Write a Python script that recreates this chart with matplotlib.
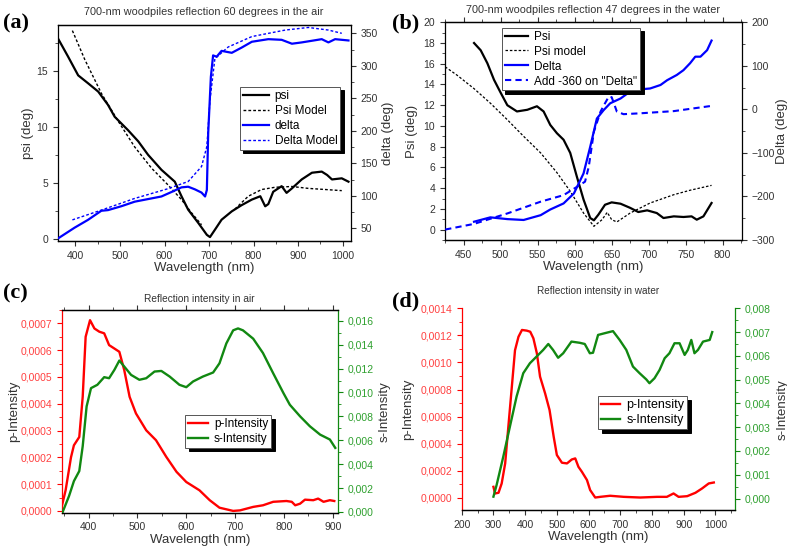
import numpy as np
import matplotlib
matplotlib.use("Agg")
import matplotlib.pyplot as plt
from matplotlib.ticker import MultipleLocator, FuncFormatter

plt.rcParams['font.family'] = ['Liberation Sans', 'DejaVu Sans']

# ---- (a) 60 degrees in air ----
a_wl_psi = [362, 383, 406, 428, 451, 473, 488, 518, 541, 563, 593, 623, 638, 653, 676, 695,
            702, 713, 728, 751, 773, 796, 815, 826, 833, 844, 863, 874, 886, 908, 931, 953,
            965, 976, 998, 1013]
a_psi = [17.8, 16.3, 14.6, 13.9, 13.15, 11.96, 10.9, 9.7, 8.7, 7.5, 6.16, 5.1, 3.8, 2.6, 1.4, 0.35,
         0.15, 0.8, 1.7, 2.45, 3.0, 3.5, 3.8, 2.9, 3.1, 4.2, 4.7, 4.1, 4.5, 5.3, 5.9, 6.0,
         5.7, 5.3, 5.4, 5.1]
a_wl_psim = [393, 421, 458, 496, 533, 571, 608, 638, 661, 683, 720, 758, 788, 818, 848, 886, 923, 961, 998]
a_psim = [18.6, 16.0, 13.0, 10.5, 8.2, 6.3, 4.8, 3.5, 2.3, 1.25, np.nan, 2.65, 3.8, 4.4, 4.6, 4.67, 4.5, 4.4, 4.3]
a_wl_del = [362, 398, 428, 458, 473, 503, 533, 563, 593, 616, 638, 653, 668, 683, 691, 695,
            698, 704, 709, 717, 728, 751, 773, 796, 833, 863, 886, 908, 953, 968, 983, 1013]
a_del = [35, 51, 63, 77, 78, 84, 91, 95, 99, 106, 113, 114, 110, 105, 99, 109,
         196, 283, 316, 314, 323, 320, 328, 337, 341, 340, 334, 336, 341, 336, 341, 339]
a_wl_delm = [393, 458, 533, 608, 653, 683, 695, 702, 713, 743, 796, 871, 923, 968, 998]
a_delm = [63, 78, 96, 111, 122, 145, 176, 247, 311, 329, 345, 355, 359, 355, 350]

# ---- (b) 47 degrees in water ----
b_wl_psi = [464, 473, 482, 491, 500, 509, 522, 536, 549, 558, 567, 576, 585, 594, 603, 612,
            621, 626, 632, 641, 650, 662, 675, 686, 698, 711, 720, 734, 747, 758, 765, 774, 781, 785]
b_psi = [18.0, 17.3, 16.05, 14.45, 13.2, 12.0, 11.4, 11.56, 11.9, 11.4, 10.1, 9.3, 8.67, 7.4, 5.1, 2.9,
         1.12, 0.9, 1.44, 2.4, 2.63, 2.5, 2.1, 1.7, 1.86, 1.6, 1.12, 1.28, 1.22, 1.28, 0.96, 1.28, 2.1, 2.57]
b_wl_psim = [425, 441, 464, 486, 509, 531, 554, 576, 594, 612, 626, 637, 644, 650, 657, 675, 702, 734, 756, 785]
b_psim = [15.7, 14.9, 13.6, 12.2, 10.6, 9.0, 7.4, 5.5, 3.7, 1.6, 0.32, 0.96, 1.67, 0.96, 0.74, 1.6, 2.57,
          3.37, 3.8, 4.27]
b_wl_del = [464, 486, 509, 531, 554, 567, 585, 599, 612, 621, 630, 639, 648, 662, 675, 689,
            702, 716, 725, 738, 747, 756, 763, 770, 779, 785]
b_del = [-258, -248, -252, -254, -243, -230, -216, -193, -147, -86, -21, -2, 14, 25, 41, 46,
         48, 56, 67, 79, 90, 106, 121, 121, 136, 158]
b_wl_add = [425, 464, 509, 554, 585, 603, 614, 619, 626, 635, 641, 646, 650, 657, 666, 689, 734, 785]
b_add = [-276, -263, -239, -212, -197, -178, -166, -132, -51, -5, 14, 29, 28, -5, -11, -9, -4, 8]

# ---- (c) intensity in air ----
c_wl_p = [343, 353, 364, 370, 381, 388, 394, 403, 412, 422, 432, 442, 453, 463, 473, 484, 497,
          518, 538, 559, 580, 600, 627, 648, 668, 696, 710, 737, 757, 778, 805, 816, 823, 833,
          843, 860, 870, 881, 894, 903]
c_p = [0.0, 0.77, 2.0, 2.45, 2.76, 4.26, 6.5, 7.12, 6.81, 6.69, 6.63, 6.19, 6.06, 5.94, 5.26, 4.26,
       3.64, 3.01, 2.64, 2.02, 1.46, 1.08, 0.77, 0.4, 0.12, 0.0, 0.02, 0.15, 0.21, 0.34, 0.37,
       0.34, 0.21, 0.27, 0.42, 0.4, 0.46, 0.34, 0.4, 0.37]  # x 1e-4
c_wl_s = [347, 360, 370, 381, 388, 396, 405, 418, 432, 442, 453, 463, 473, 487, 504, 518, 535,
          549, 566, 586, 600, 614, 634, 655, 668, 682, 696, 706, 716, 737, 757, 778, 799, 812,
          833, 853, 874, 894, 905]
c_s = [0.0, 1.33, 2.58, 3.42, 5.5, 8.83, 10.36, 10.64, 11.28, 11.19, 11.9, 12.67, 12.17, 11.47,
       11.06, 11.19, 11.75, 11.8, 11.33, 10.64, 10.44, 10.92, 11.33, 11.67, 12.44, 14.1, 15.2,
       15.36, 15.2, 14.5, 13.3, 11.6, 9.94, 8.97, 8.0, 7.17, 6.47, 6.06, 5.36]  # x 1e-3

# ---- (d) intensity in water ----
d_wl_p = [300, 305, 316, 326, 337, 347, 358, 368, 379, 390, 405, 416, 426, 437, 447, 463, 477,
          490, 500, 516, 532, 547, 558, 568, 579, 595, 605, 621, 637, 668, 711, 763, 816, 847,
          868, 884, 911, 937, 958, 979, 995]
d_p = [0.81, 0.32, 0.37, 1.06, 2.54, 5.25, 8.2, 10.9, 11.9, 12.4, 12.35, 12.27, 11.78, 10.67,
       8.95, 7.71, 6.48, 4.51, 3.16, 2.59, 2.54, 2.83, 2.91, 2.29, 1.92, 1.31, 0.57, 0.02, 0.07,
       0.15, 0.07, 0.02, 0.07, 0.07, 0.32, 0.07, 0.12, 0.37, 0.69, 1.06, 1.13]  # x 1e-4
d_wl_s = [300, 310, 331, 352, 373, 394, 415, 436, 457, 473, 488, 504, 520, 546, 572, 588, 604,
          614, 630, 656, 677, 698, 719, 740, 761, 782, 792, 808, 824, 840, 855, 871, 887, 903,
          913, 924, 934, 945, 961, 982, 990]
d_s = [0.08, 0.57, 1.76, 3.03, 4.29, 5.27, 5.69, 5.97, 6.25, 6.5, 6.25, 5.92, 6.11, 6.6, 6.55,
       6.5, 6.11, 6.13, 6.88, 6.97, 7.04, 6.67, 6.25, 5.55, 5.27, 5.01, 4.85, 5.06, 5.41, 5.9,
       6.11, 6.53, 6.53, 6.04, 6.25, 6.67, 6.11, 6.25, 6.6, 6.67, 7.0]  # x 1e-3

TXT = '#333333'
RED = '#ff0000'
GRN = '#118811'
REDT = '#ff4040'
GRNT = '#2ea02e'
LBL = 9.5


def comma(fmt):
    return FuncFormatter(lambda v, pos: (fmt % v).replace('.', ','))


def style(ax, ax2, top_ticks=True):
    for a in (ax, ax2):
        a.tick_params(which='both', direction='out', labelsize=7.5, colors=TXT, labelcolor=TXT)
        a.tick_params(which='major', length=3.5, width=0.8)
        a.tick_params(which='minor', length=2, width=0.6)
    ax.tick_params(axis='x', which='both', top=top_ticks)
    ax.spines['right'].set_visible(False)
    ax2.spines['left'].set_visible(False)
    for sp in ax.spines.values():
        sp.set_linewidth(0.9)
    for sp in ax2.spines.values():
        sp.set_linewidth(0.9)


def shadow_legend(ax, handles, anchor, size, hlen):
    leg = ax.legend(handles=handles, loc='upper left', bbox_to_anchor=anchor, borderaxespad=0,
                    fontsize=size, frameon=True, fancybox=False, framealpha=1, edgecolor='#555555',
                    handlelength=hlen, labelspacing=0.25, borderpad=0.25, handletextpad=0.5,
                    shadow={'ox': 2.5, 'oy': -2.5, 'facecolor': 'black', 'edgecolor': 'black',
                            'alpha': 1})
    leg.get_frame().set_linewidth(0.7)
    return leg


fig = plt.figure(figsize=(7.87, 5.53), dpi=100)

# (a)
ax = fig.add_axes([0.0733, 0.5642, 0.3723, 0.3906])
ax2 = ax.twinx()
l1, = ax.plot(a_wl_psi, a_psi, color='black', lw=1.6, label='psi')
l2, = ax.plot(a_wl_psim, a_psim, color='black', lw=1.0, ls=(0, (2, 1.5)), label='Psi Model')
l3, = ax2.plot(a_wl_del, a_del, color='blue', lw=1.6, label='delta')
l4, = ax2.plot(a_wl_delm, a_delm, color='blue', lw=1.0, ls=(0, (2, 1.5)), label='Delta Model')
ax.set_xlim(360, 1018)
ax.set_ylim(-0.2, 19.1)
ax2.set_ylim(30.5, 362.8)
ax.xaxis.set_major_locator(MultipleLocator(100))
ax.xaxis.set_minor_locator(MultipleLocator(50))
ax.yaxis.set_major_locator(MultipleLocator(5))
ax.yaxis.set_minor_locator(MultipleLocator(2.5))
ax2.yaxis.set_major_locator(MultipleLocator(50))
ax2.yaxis.set_minor_locator(MultipleLocator(25))
style(ax, ax2, top_ticks=False)
ax.set_xlabel('Wavelength (nm)', fontsize=LBL, color=TXT, labelpad=1)
ax.set_ylabel('psi (deg)', fontsize=LBL, color=TXT, labelpad=2)
ax2.set_ylabel('delta (deg)', fontsize=LBL, color=TXT, labelpad=3)
ax.set_title('700-nm woodpiles reflection 60 degrees in the air', fontsize=7.8, color=TXT, pad=7)
shadow_legend(ax2, [l1, l2, l3, l4], (0.622, 0.713), 8.5, 2.2)

# (b)
ax = fig.add_axes([0.5654, 0.566, 0.377, 0.3937])
ax2 = ax.twinx()
l1, = ax.plot(b_wl_psi, b_psi, color='black', lw=1.6, label='Psi')
l2, = ax.plot(b_wl_psim, b_psim, color='black', lw=0.9, ls=(0, (2, 1.5)), label='Psi model')
l3, = ax2.plot(b_wl_del, b_del, color='blue', lw=1.6, label='Delta')
l4, = ax2.plot(b_wl_add, b_add, color='blue', lw=1.5, ls=(0, (3, 2)), label='Add -360 on "Delta"')
ax.set_xlim(424.7, 825.7)
ax.set_ylim(-1, 20)
ax2.set_ylim(-300, 200)
ax.xaxis.set_major_locator(MultipleLocator(50))
ax.xaxis.set_minor_locator(MultipleLocator(25))
ax.yaxis.set_major_locator(MultipleLocator(2))
ax.yaxis.set_minor_locator(MultipleLocator(1))
ax2.yaxis.set_major_locator(MultipleLocator(100))
ax2.yaxis.set_minor_locator(MultipleLocator(50))
style(ax, ax2)
ax.set_xlabel('Wavelength (nm)', fontsize=LBL, color=TXT, labelpad=1)
ax.set_ylabel('Psi (deg)', fontsize=LBL, color=TXT, labelpad=4)
ax2.set_ylabel('Delta (deg)', fontsize=LBL, color=TXT, labelpad=1)
ax.set_title('700-nm woodpiles reflection 47 degrees in the water', fontsize=7.8, color=TXT, pad=7)
shadow_legend(ax2, [l1, l2, l3, l4], (0.191, 0.975), 8.5, 2.0)

# (c)
ax = fig.add_axes([0.0784, 0.0732, 0.3507, 0.3662])
ax2 = ax.twinx()
l1, = ax.plot(c_wl_p, np.array(c_p) * 1e-4, color=RED, lw=1.7, label='p-Intensity')
l2, = ax2.plot(c_wl_s, np.array(c_s) * 1e-3, color=GRN, lw=1.7, label='s-Intensity')
ax.set_xlim(345, 910)
ax.set_ylim(-0.000006, 0.00075)
ax2.set_ylim(-0.00005, 0.0169)
ax.xaxis.set_major_locator(MultipleLocator(100))
ax.xaxis.set_minor_locator(MultipleLocator(50))
ax.yaxis.set_major_locator(MultipleLocator(0.0001))
ax.yaxis.set_minor_locator(MultipleLocator(0.00005))
ax2.yaxis.set_major_locator(MultipleLocator(0.002))
ax2.yaxis.set_minor_locator(MultipleLocator(0.001))
ax.yaxis.set_major_formatter(comma('%.4f'))
ax2.yaxis.set_major_formatter(comma('%.3f'))
style(ax, ax2)
ax.tick_params(axis='y', which='both', colors=RED, labelcolor=REDT)
ax2.tick_params(axis='y', which='both', colors=GRN, labelcolor=GRNT)
ax.spines['left'].set_color(RED)
ax2.spines['right'].set_color(GRN)
ax.set_xlabel('Wavelength (nm)', fontsize=LBL, color=TXT, labelpad=1)
ax.set_ylabel('p-Intensity', fontsize=LBL, color=TXT, labelpad=0)
ax2.set_ylabel('s-Intensity', fontsize=LBL, color=TXT, labelpad=4)
ax.set_title('Reflection intensity in air', fontsize=7.3, color=TXT, pad=6)
shadow_legend(ax2, [l1, l2], (0.447, 0.481), 8.5, 1.7)

# (d)
ax = fig.add_axes([0.5867, 0.0778, 0.3473, 0.3647])
ax2 = ax.twinx()
l1, = ax.plot(d_wl_p, np.array(d_p) * 1e-4, color=RED, lw=1.7, label='p-Intensity')
l2, = ax2.plot(d_wl_s, np.array(d_s) * 1e-3, color=GRN, lw=1.7, label='s-Intensity')
ax.set_xlim(200, 1062)
ax.set_ylim(-0.00009, 0.0014)
ax2.set_ylim(-0.00048, 0.008)
ax.xaxis.set_major_locator(MultipleLocator(100))
ax.xaxis.set_minor_locator(MultipleLocator(50))
ax.yaxis.set_major_locator(MultipleLocator(0.0002))
ax.yaxis.set_minor_locator(MultipleLocator(0.0001))
ax2.yaxis.set_major_locator(MultipleLocator(0.001))
ax2.yaxis.set_minor_locator(MultipleLocator(0.0005))
ax.yaxis.set_major_formatter(comma('%.4f'))
ax2.yaxis.set_major_formatter(comma('%.3f'))
style(ax, ax2, top_ticks=False)
ax.spines['top'].set_visible(False)
ax2.spines['top'].set_visible(False)
ax.tick_params(axis='y', which='both', colors=RED, labelcolor=REDT)
ax2.tick_params(axis='y', which='both', colors=GRN, labelcolor=GRNT)
ax.spines['left'].set_color(RED)
ax2.spines['right'].set_color(GRN)
ax.set_xlabel('Wavelength (nm)', fontsize=LBL, color=TXT, labelpad=1)
ax.set_ylabel('p-Intensity', fontsize=LBL, color=TXT, labelpad=4)
ax2.set_ylabel('s-Intensity', fontsize=LBL, color=TXT, labelpad=4)
ax.set_title('Reflection intensity in water', fontsize=7.2, color=TXT, pad=10)
shadow_legend(ax2, [l1, l2], (0.499, 0.565), 9, 1.5)

# panel letters
for txt, x, y in [('(a)', 0.004, 0.975), ('(b)', 0.498, 0.975), ('(c)', 0.004, 0.488), ('(d)', 0.498, 0.472)]:
    fig.text(x, y, txt, fontsize=16, fontweight='bold', family=['Liberation Serif', 'DejaVu Serif'],
             va='top', ha='left')

fig.savefig('out.png', dpi=100)
